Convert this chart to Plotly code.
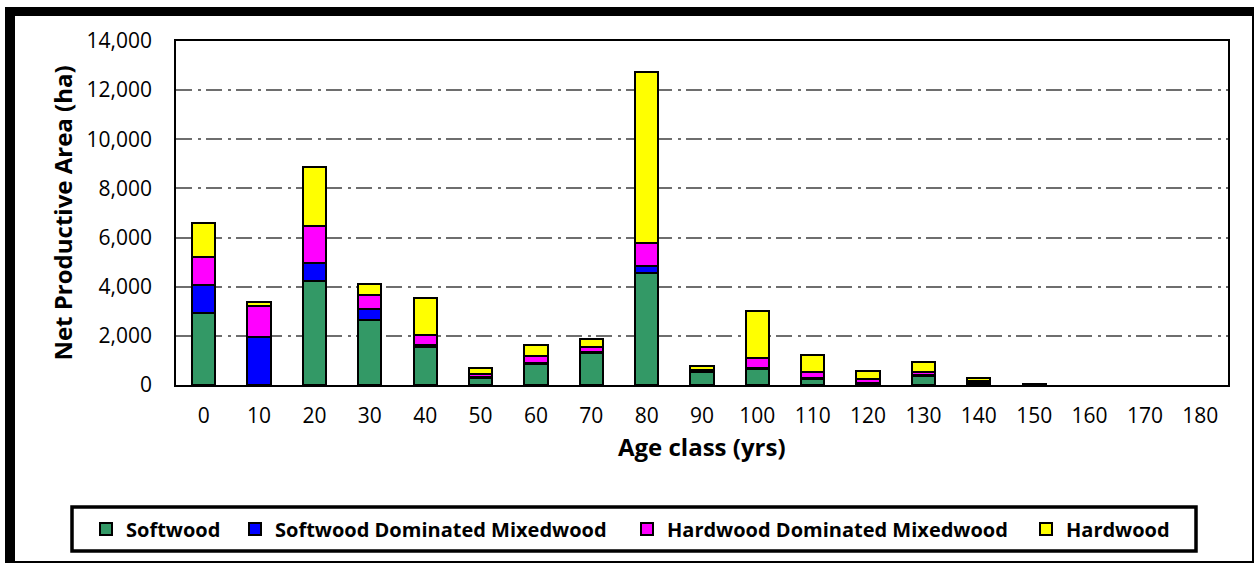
import plotly.graph_objects as go

# ---- data ----
age_classes = ["0", "10", "20", "30", "40", "50", "60", "70", "80", "90",
               "100", "110", "120", "130", "140", "150", "160", "170", "180"]
softwood = [2950, 0, 4245, 2645, 1530, 270, 850, 1290, 4570, 510, 640, 240, 60, 380, 60, 15, None, None, None]
softwood_dom_mixed = [1120, 1970, 735, 460, 100, 40, 40, 70, 270, 30, 50, 40, 30, 20, 30, 5, None, None, None]
hardwood_dom_mixed = [1130, 1245, 1490, 555, 390, 120, 290, 185, 950, 70, 395, 260, 140, 110, 80, 5, None, None, None]
hardwood = [1380, 150, 2390, 435, 1510, 250, 435, 340, 6960, 180, 1940, 680, 350, 440, 120, 10, None, None, None]

series_names = ["Softwood", "Softwood Dominated Mixedwood", "Hardwood Dominated Mixedwood", "Hardwood"]
series_values = [softwood, softwood_dom_mixed, hardwood_dom_mixed, hardwood]
series_colors = ["#339966", "#0000FF", "#FF00FF", "#FFFF00"]

y_tickvals = [0, 2000, 4000, 6000, 8000, 10000, 12000, 14000]
x_title = "Age class (yrs)"
y_title = "Net Productive Area (ha)"

# ---- layout geometry (pixels) ----
W, H = 1255, 565
PL, PR, PT, PB = 176, 1228, 41, 385


def px(x):
    return (x - PL) / (PR - PL)


def py(y):
    return (PB - y) / (PB - PT)


FONT = "Open Sans"
fig = go.Figure()

legend_keys = ["legend", "legend2", "legend3", "legend4"]
legend_text_x = [126, 275, 667, 1066]

for name, vals, col, lk in zip(series_names, series_values, series_colors, legend_keys):
    fig.add_trace(go.Bar(
        x=age_classes, y=vals, name=name,
        marker=dict(color=col, line=dict(color="black", width=2)),
        legend=lk, showlegend=True,
    ))

layout_legends = {}
for lk, tx in zip(legend_keys, legend_text_x):
    layout_legends[lk] = dict(
        x=px(tx - 40), xanchor="left", xref="paper",
        y=py(529), yanchor="middle", yref="paper",
        orientation="h", bgcolor="rgba(0,0,0,0)", borderwidth=0,
        font=dict(family=FONT, size=20, color="black", weight="bold"),
        visible=True,
    )

shapes = [
    # outer frame
    dict(type="rect", xref="paper", yref="paper", x0=px(5), x1=px(1253), y0=py(7), y1=py(16),
         fillcolor="black", line=dict(width=0), layer="above"),
    dict(type="rect", xref="paper", yref="paper", x0=px(5), x1=px(15), y0=py(7), y1=py(563),
         fillcolor="black", line=dict(width=0), layer="above"),
    dict(type="rect", xref="paper", yref="paper", x0=px(1252), x1=px(1254), y0=py(7), y1=py(563),
         fillcolor="black", line=dict(width=0), layer="above"),
    dict(type="rect", xref="paper", yref="paper", x0=px(5), x1=px(1254), y0=py(561), y1=py(563),
         fillcolor="black", line=dict(width=0), layer="above"),
    # legend box
    dict(type="rect", xref="paper", yref="paper", x0=px(72), x1=px(1196), y0=py(507), y1=py(551),
         fillcolor="rgba(0,0,0,0)", line=dict(color="black", width=3.5), layer="above"),
]

annotations = [
    dict(text=x_title, xref="paper", yref="paper", x=0.5, y=py(447),
         xanchor="center", yanchor="middle", showarrow=False,
         font=dict(family=FONT, size=24, color="black", weight="bold")),
]

fig.update_layout(
    width=W, height=H,
    margin=dict(l=PL, r=W - PR, t=PT, b=H - PB, autoexpand=False),
    paper_bgcolor="white", plot_bgcolor="white",
    barmode="stack", bargap=0.58,
    showlegend=True, hovermode=False,
    font=dict(family=FONT, color="black", size=21),
    shapes=shapes, annotations=annotations,
    **layout_legends,
)

fig.update_xaxes(
    type="category", categoryorder="array", categoryarray=age_classes,
    showline=True, linecolor="black", linewidth=1.5, mirror=True,
    showgrid=False, ticks="", ticklabelstandoff=11,
    tickfont=dict(family=FONT, size=21, color="black"),
    automargin=False,
)
fig.update_yaxes(
    range=[0, 14000], tickvals=y_tickvals, tickformat=",d",
    showline=True, linecolor="black", linewidth=1.5, mirror=True,
    showgrid=True, gridcolor="#6e6e6e", gridwidth=2, griddash="16px,6px,3px,5px",
    zeroline=False, ticks="", ticklabelstandoff=18,
    tickfont=dict(family=FONT, size=21, color="black"),
    title=dict(text=y_title, standoff=7,
               font=dict(family=FONT, size=24, color="black", weight="bold")),
    automargin=False,
)

fig.write_html("out.html", config={"displayModeBar": False},
               post_script="document.body.style.margin='0';document.body.style.overflow='hidden';")
